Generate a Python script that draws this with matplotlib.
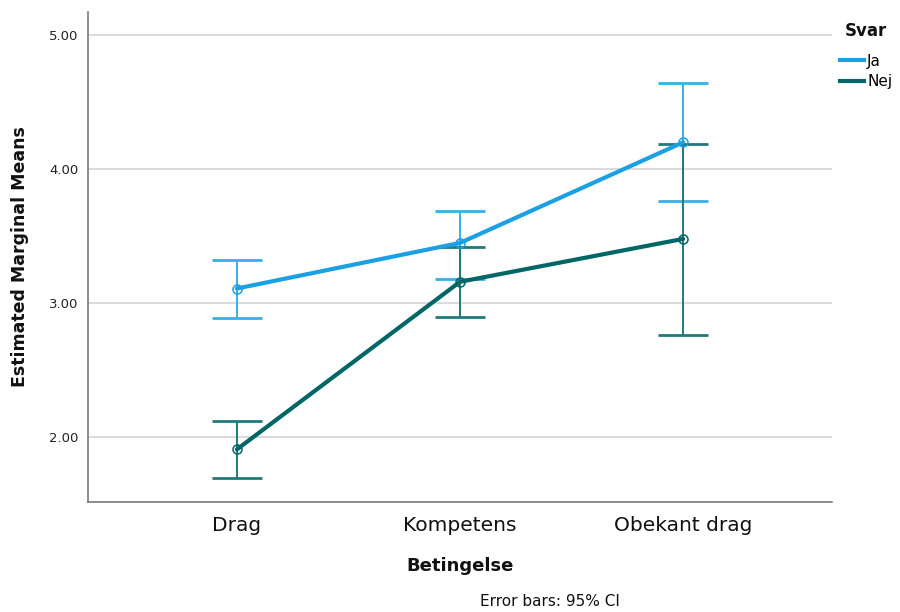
import matplotlib
matplotlib.use("Agg")
import matplotlib.pyplot as plt
from matplotlib.lines import Line2D
import numpy as np

plt.rcParams['font.family'] = ['DejaVu Sans']

categories = ["Drag", "Kompetens", "Obekant drag"]
series = ["Ja", "Nej"]

ja_mean = [3.11, 3.45, 4.20]
ja_low = [2.89, 3.18, 3.76]
ja_high = [3.32, 3.69, 4.64]

nej_mean = [1.91, 3.16, 3.48]
nej_low = [1.70, 2.90, 2.76]
nej_high = [2.12, 3.42, 4.19]

y_ticks = [2.0, 3.0, 4.0, 5.0]
y_tick_labels = ["2.00", "3.00", "4.00", "5.00"]

colors = {"Ja": "#1ca0e4", "Nej": "#006766"}
bar_colors = {"Ja": "#3aaee8", "Nej": "#1f7a79"}

fig = plt.figure(figsize=(9, 6.12), dpi=100)
ax = fig.add_axes([88 / 900, 1 - 502 / 612, (832 - 88) / 900, (502 - 12) / 612])

x = np.arange(len(categories))
cap_half = 0.112

data = {
    "Ja": (ja_mean, ja_low, ja_high),
    "Nej": (nej_mean, nej_low, nej_high),
}

for name in series:
    mean, low, high = data[name]
    c = colors[name]
    bc = bar_colors[name]
    ax.vlines(x, low, high, colors=bc, lw=1.4, zorder=3)
    ax.hlines(low, x - cap_half, x + cap_half, colors=bc, lw=2.0, zorder=3)
    ax.hlines(high, x - cap_half, x + cap_half, colors=bc, lw=2.0, zorder=3)
    ax.plot(x, mean, color=c, lw=3.0, zorder=4, solid_capstyle='round')
    ax.plot(x, mean, linestyle='none', marker='o', ms=6.5, mfc='none',
            mec=c, mew=1.1, zorder=5)

ax.set_xlim(-0.667, 2.667)
ax.set_ylim(1.518, 5.172)
ax.set_yticks(y_ticks)
ax.set_yticklabels(y_tick_labels)
ax.set_xticks(x)
ax.set_xticklabels(categories)
ax.tick_params(axis='both', length=0)
ax.tick_params(axis='y', labelsize=9.5, colors='#222222', pad=7)
ax.tick_params(axis='x', labelsize=14.5, colors='#111111', pad=10)
ax.yaxis.grid(True, color='#dadada', lw=1.4)
ax.set_axisbelow(True)

for side in ("top", "right"):
    ax.spines[side].set_visible(False)
for side in ("left", "bottom"):
    ax.spines[side].set_color('#6f6f6f')
    ax.spines[side].set_linewidth(1.1)

ax.set_ylabel("Estimated Marginal Means", fontsize=12.5, fontweight='bold',
              color='#111111', labelpad=14)
ax.set_xlabel("Betingelse", fontsize=13, fontweight='bold', color='#111111',
              labelpad=16)

fig.text(550 / 900, 1 - 601 / 612, "Error bars: 95% CI", fontsize=11,
         ha='center', va='center', color='#111111')

# legend title drawn separately so its gap to the entries can be set freely
fig.text(866 / 900, 1 - 31 / 612, "Svar", fontsize=12, fontweight='bold',
         ha='center', va='center', color='#111111')

handles = [Line2D([], [], color=colors[n], lw=3.0) for n in series]
leg = fig.legend(handles, series, loc='upper left',
                 bbox_to_anchor=(829 / 900, 1 - 43 / 612),
                 frameon=False, handlelength=1.6, handletextpad=0.2,
                 labelspacing=0.35, fontsize=11, borderpad=0.2)

fig.savefig("out.png", dpi=100, facecolor='white')
